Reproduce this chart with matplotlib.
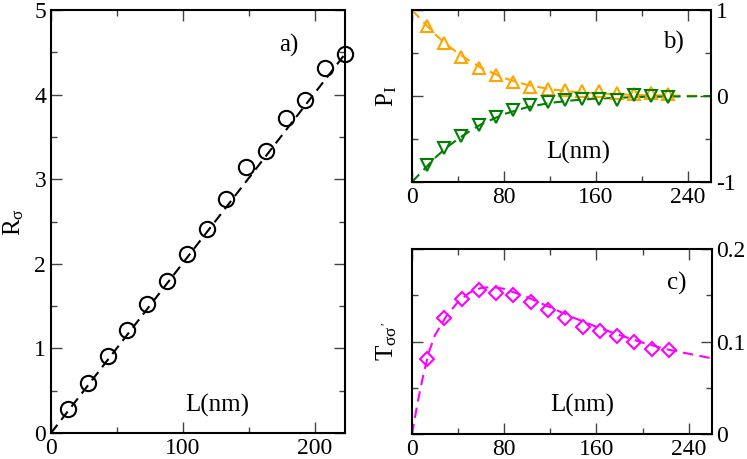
import numpy as np
import matplotlib
matplotlib.use("Agg")
import matplotlib.pyplot as plt
from matplotlib.ticker import MultipleLocator

plt.rcParams['font.family'] = ['Liberation Serif', 'DejaVu Serif']
plt.rcParams['mathtext.fontset'] = 'custom'
plt.rcParams['mathtext.rm'] = 'Liberation Serif'
plt.rcParams['mathtext.it'] = 'Liberation Serif'

# panel a) data
L = [13, 28, 43, 58, 73, 88, 103, 118, 133, 148, 163, 178, 193, 208, 223]
R_sigma = [0.28, 0.59, 0.91, 1.22, 1.52, 1.80, 2.12, 2.41, 2.77, 3.14, 3.33, 3.72, 3.94, 4.31, 4.48]
fit_a_x = [0, 223]
fit_a_y = [0.0, 4.48]

# panel b) data
P_up = [0.82, 0.62, 0.46, 0.33, 0.24, 0.16, 0.105, 0.086, 0.066, 0.058, 0.058, 0.035, 0.027, 0.035, 0.027]
P_down = [-0.80, -0.61, -0.46, -0.34, -0.24, -0.16, -0.105, -0.07, -0.043, -0.031, -0.031, -0.043, 0.008, -0.004, -0.012]
fit_b_x = [0, 10, 20, 30, 40, 50, 60, 80, 100, 120, 140, 160, 200, 260]
fit_b_up = [1.0, 0.86, 0.72, 0.60, 0.50, 0.41, 0.33, 0.21, 0.13, 0.08, 0.05, 0.03, 0.01, 0.0]
fit_b_down = [-1.0, -0.86, -0.72, -0.60, -0.50, -0.41, -0.33, -0.21, -0.13, -0.08, -0.05, -0.03, -0.01, 0.0]

# panel c) data
T_ss = [0.081, 0.126, 0.146, 0.156, 0.153, 0.150, 0.143, 0.134, 0.125, 0.116, 0.112, 0.106, 0.100, 0.092, 0.091]
fit_c_x = [0, 5, 10, 15, 20, 30, 40, 50, 60, 70, 80, 100, 120, 140, 160, 180, 200, 220, 240, 260]
fit_c_y = [0.0, 0.035, 0.065, 0.09, 0.107, 0.128, 0.143, 0.153, 0.158, 0.159, 0.157, 0.148, 0.137,
           0.126, 0.116, 0.107, 0.099, 0.092, 0.087, 0.082]

fig = plt.figure(figsize=(7.47, 4.59), dpi=100)
axa = fig.add_axes([0.0683, 0.0566, 0.3935, 0.9214])
axb = fig.add_axes([0.5515, 0.6035, 0.4003, 0.3745])
axc = fig.add_axes([0.5515, 0.0538, 0.4013, 0.4037])

dash = (0, (5, 3))


def style(ax):
    for s in ax.spines.values():
        s.set_linewidth(1.5)
    ax.tick_params(which='both', direction='in', top=True, right=True, labelsize=17,
                   width=1, color='#444444')
    ax.tick_params(which='major', length=8)
    ax.tick_params(which='minor', length=4)


# a)
axa.plot(fit_a_x, fit_a_y, color='black', ls=dash, lw=1.5)
axa.plot(L, R_sigma, ls='none', marker='o', ms=11, mfc='none', mec='black', mew=1.5, clip_on=False)
axa.set_xlim(0, 223)
axa.set_ylim(0, 5)
axa.xaxis.set_major_locator(MultipleLocator(100))
axa.xaxis.set_minor_locator(MultipleLocator(50))
axa.yaxis.set_major_locator(MultipleLocator(1))
axa.yaxis.set_minor_locator(MultipleLocator(0.5))
style(axa)
axa.set_ylabel(r'R$_\sigma$', fontsize=18, labelpad=6)
axa.text(0.81, 0.917, 'a)', transform=axa.transAxes, fontsize=18, ha='center', va='center')
axa.text(0.564, 0.066, 'L(nm)', transform=axa.transAxes, fontsize=18, ha='center', va='center')

# b)
axb.plot(fit_b_x, fit_b_up, color='orange', ls=dash, lw=1.5)
axb.plot(fit_b_x, fit_b_down, color='green', ls=dash, lw=1.5)
axb.plot(L, P_up, ls='none', marker='^', ms=9, mfc='none', mec='orange', mew=1.5, clip_on=False)
axb.plot(L, P_down, ls='none', marker='v', ms=9, mfc='none', mec='green', mew=1.5, clip_on=False)
axb.set_xlim(0, 260)
axb.set_ylim(-1, 1)
axb.xaxis.set_major_locator(MultipleLocator(80))
axb.xaxis.set_minor_locator(MultipleLocator(40))
axb.yaxis.set_major_locator(MultipleLocator(1))
axb.yaxis.set_minor_locator(MultipleLocator(0.5))
style(axb)
axb.yaxis.set_label_position('left')
axb.tick_params(labelleft=False, labelright=True)
axb.set_yticks([-1, 0, 1], ['-1', '0', '1'])
axb.set_ylabel(r'P$_\mathrm{I}$', fontsize=18, labelpad=6)
axb.text(0.873, 0.814, 'b)', transform=axb.transAxes, fontsize=18, ha='center', va='center')
axb.text(0.555, 0.169, 'L(nm)', transform=axb.transAxes, fontsize=18, ha='center', va='center')

# c)
axc.plot(fit_c_x, fit_c_y, color='magenta', ls=dash, lw=1.5)
axc.plot(L, T_ss, ls='none', marker='D', ms=7.5, mfc='none', mec='magenta', mew=1.5, clip_on=False)
axc.set_xlim(0, 260)
axc.set_ylim(0, 0.2)
axc.xaxis.set_major_locator(MultipleLocator(80))
axc.xaxis.set_minor_locator(MultipleLocator(40))
axc.yaxis.set_major_locator(MultipleLocator(0.1))
axc.yaxis.set_minor_locator(MultipleLocator(0.05))
style(axc)
axc.tick_params(labelleft=False, labelright=True)
axc.set_yticks([0, 0.1, 0.2], ['0', '0.1', '0.2'])
axc.set_ylabel(r"T$_{\sigma\sigma'}$", fontsize=18, labelpad=6)
axc.text(0.883, 0.816, 'c)', transform=axc.transAxes, fontsize=18, ha='center', va='center')
axc.text(0.567, 0.158, 'L(nm)', transform=axc.transAxes, fontsize=18, ha='center', va='center')

fig.savefig('out.png', dpi=100)
